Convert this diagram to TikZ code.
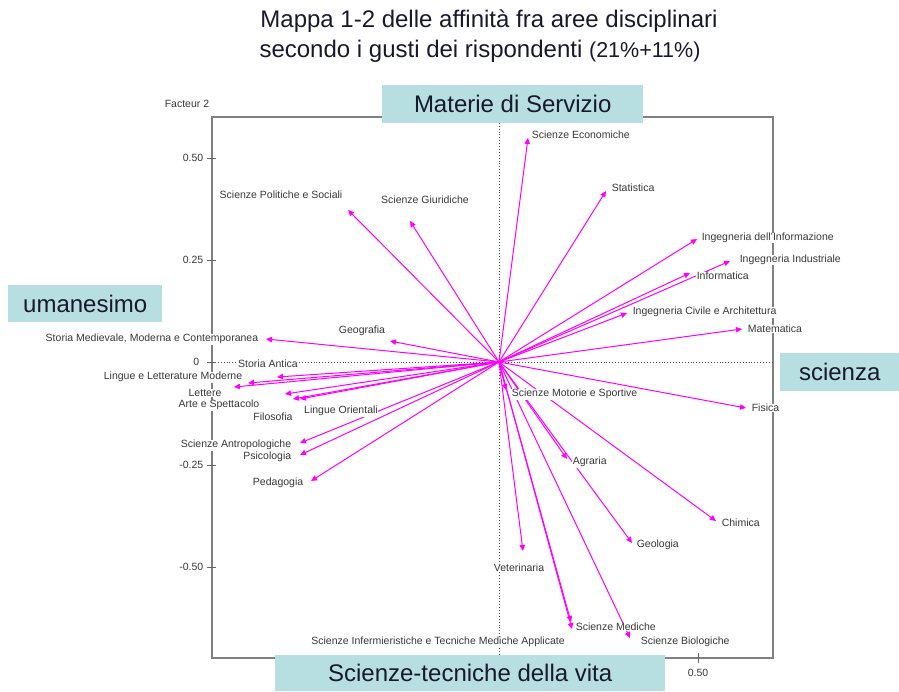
\documentclass[tikz,border=0pt]{standalone}
\usepackage{fontspec}
\setmainfont{Liberation Sans}
\usetikzlibrary{arrows.meta,positioning}

\definecolor{bandfill}{RGB}{183,222,225}
\definecolor{vecpink}{RGB}{255,0,255}
\definecolor{inkdark}{RGB}{25,25,45}

\tikzset{
  band/.style={fill=bandfill, text=inkdark, inner sep=0pt, anchor=north west,
    font=\fontsize{24}{28}\selectfont},
  lab/.style={fill=white, text=black!78, inner sep=0.6pt, font=\fontsize{10.5}{12}\selectfont},
  axlab/.style={text=black!78, inner sep=0.6pt, font=\fontsize{10.5}{12}\selectfont},
  vec/.style={vecpink, line width=1pt, -{Triangle[length=6pt,width=5.5pt]}},
}

\begin{document}
\begin{tikzpicture}[x=1pt, y=-1pt]
\useasboundingbox (0,0) rectangle (899,691);

\node[anchor=base, text=inkdark, font=\fontsize{24}{28}\selectfont] (title1) at (489,27)
  {Mappa 1-2 delle affinità fra aree disciplinari};
\node[anchor=base, text=inkdark, font=\fontsize{24}{28}\selectfont] (title2) at (480,57)
  {secondo i gusti dei rispondenti {\fontsize{21.5}{24}\selectfont(21\%+11\%)}};

% frame and axes
\draw[black!50, line width=1.8pt] (212,117) rectangle (773,658);
\begin{scope}[black!70, dotted, line width=0.9pt]
\draw (499,117) -- (499,658);
\draw (212,362) -- (773,362);
\end{scope}

\begin{scope}[black!60, line width=0.8pt]
\draw (207,158) -- (216,158);
\draw (207,260) -- (216,260);
\draw (207,362) -- (216,362);
\draw (207,465) -- (216,465);
\draw (207,567) -- (216,567);
\draw (698,653) -- (698,663);
\end{scope}

\node[axlab, anchor=east] (y050) at (204,158) {0.50};
\node[axlab, anchor=east] (y025) at (204,260) {0.25};
\node[axlab, anchor=east] (y000) at (200,362) {0};
\node[axlab, anchor=east] (ym025) at (204,465) {-0.25};
\node[axlab, anchor=east] (ym050) at (204,567) {-0.50};
\node[axlab] (x050) at (698,673) {0.50};
\node[axlab] (facteur) at (187,104) {Facteur 2};

% origin and arrow tips
\coordinate (o) at (499,362);
\coordinate (econ) at (528,138);
\coordinate (stat) at (606,191);
\coordinate (inginf) at (697,239);
\coordinate (ingind) at (730,261);
\coordinate (info) at (690,273);
\coordinate (icivile) at (627,313);
\coordinate (mat) at (742,329);
\coordinate (fis) at (746,408);
\coordinate (chim) at (716,521);
\coordinate (geol) at (632,543);
\coordinate (agr) at (567,459);
\coordinate (motor) at (506,390);
\coordinate (vet) at (523,551);
\coordinate (infer) at (571,622);
\coordinate (medi) at (572,629);
\coordinate (biol) at (630,638);
\coordinate (polit) at (348,210);
\coordinate (giur) at (410,221);
\coordinate (geog) at (390,341);
\coordinate (smed) at (266,339);
\coordinate (santica) at (277,377);
\coordinate (lingmod) at (248,383);
\coordinate (lett) at (234,387);
\coordinate (arte) at (285,394);
\coordinate (filo) at (293,399);
\coordinate (lingor) at (300,399);
\coordinate (antrop) at (300,443);
\coordinate (psico) at (300,455);
\coordinate (pedag) at (311,481);

\begin{scope}[vec]
\draw (o) -- (econ);
\draw (o) -- (stat);
\draw (o) -- (inginf);
\draw (o) -- (ingind);
\draw (o) -- (info);
\draw (o) -- (icivile);
\draw (o) -- (mat);
\draw (o) -- (fis);
\draw (o) -- (chim);
\draw (o) -- (geol);
\draw (o) -- (agr);
\draw (o) -- (motor);
\draw (o) -- (vet);
\draw (o) -- (infer);
\draw (o) -- (medi);
\draw (o) -- (biol);
\draw (o) -- (polit);
\draw (o) -- (giur);
\draw (o) -- (geog);
\draw (o) -- (smed);
\draw (o) -- (santica);
\draw (o) -- (lingmod);
\draw (o) -- (lett);
\draw (o) -- (arte);
\draw (o) -- (filo);
\draw (o) -- (lingor);
\draw (o) -- (antrop);
\draw (o) -- (psico);
\draw (o) -- (pedag);
\end{scope}

% labels
\node[lab, anchor=west] (econL) at (531,135) {Scienze Economiche};
\node[lab, anchor=west] (statL) at (611,188) {Statistica};
\node[lab, anchor=west] (inginfL) at (701,238) {Ingegneria dell'Informazione};
\node[lab, anchor=west] (ingindL) at (739,260) {Ingegneria Industriale};
\node[lab, anchor=west] (infoL) at (696,276) {Informatica};
\node[lab, anchor=west] (icivileL) at (632,312) {Ingegneria Civile e Architettura};
\node[lab, anchor=west] (matL) at (747,329) {Matematica};
\node[lab, anchor=west] (fisL) at (751,408) {Fisica};
\node[lab, anchor=west] (chimL) at (721,523) {Chimica};
\node[lab, anchor=west] (geolL) at (636,545) {Geologia};
\node[lab, anchor=west] (agrL) at (572,462) {Agraria};
\node[lab, anchor=west] (motorL) at (511,394) {Scienze Motorie e Sportive};
\node[lab] (vetL) at (519,568) {Veterinaria};
\node[lab, anchor=west] (mediL) at (575,627) {Scienze Mediche};
\node[lab, anchor=west] (biolL) at (640,642) {Scienze Biologiche};
\node[lab] (inferL) at (438,642) {Scienze Infermieristiche e Tecniche Mediche Applicate};
\node[lab] (politL) at (281,195) {Scienze Politiche e Sociali};
\node[lab] (giurL) at (425,200) {Scienze Giuridiche};
\node[lab] (geogL) at (362,331) {Geografia};
\node[lab, anchor=east] (smedL) at (259,339) {Storia Medievale, Moderna e Contemporanea};
\node[lab] (santicaL) at (268,364) {Storia Antica};
\node[lab, anchor=east] (lingmodL) at (243,377) {Lingue e Letterature Moderne};
\node[lab] (lettL) at (205,393) {Lettere};
\node[lab] (arteL) at (219,405) {Arte e Spettacolo};
\node[lab] (filoL) at (273,417) {Filosofia};
\node[lab] (lingorL) at (341,411) {Lingue Orientali};
\node[lab, anchor=east] (antropL) at (292,445) {Scienze Antropologiche};
\node[lab, anchor=east] (psicoL) at (292,457) {Psicologia};
\node[lab, anchor=east] (pedagL) at (304,483) {Pedagogia};

% the four directions
\node[band, minimum width=261pt, minimum height=38pt] (servizio) at (382,85) {Materie di Servizio};
\node[band, minimum width=154pt, minimum height=37pt] (umanesimo) at (8,285) {umanesimo};
\node[band, minimum width=119pt, minimum height=38pt] (scienza) at (780,353) {scienza};
\node[band, minimum width=390pt, minimum height=36pt] (vita) at (275,655) {Scienze-tecniche della vita};

\end{tikzpicture}
\end{document}
